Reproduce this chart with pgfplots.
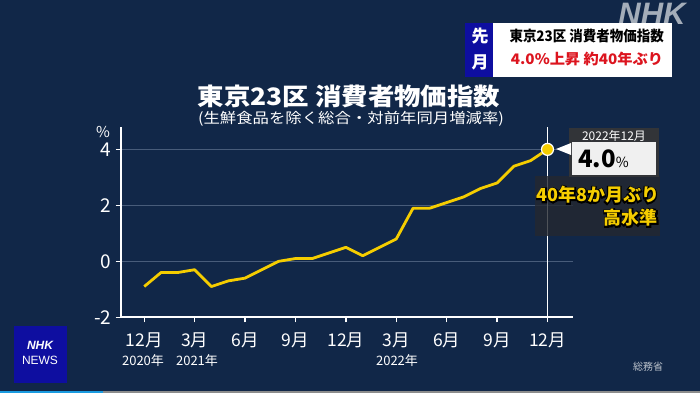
\documentclass[border=0pt]{standalone}
\usepackage{fontspec}
\setmainfont{Noto Sans CJK JP}
\newfontfamily\lat{Liberation Sans}
\newfontfamily\jpout[FakeBold=16]{Noto Sans CJK JP Bold}
\usepackage{pgfplots}
\pgfplotsset{compat=1.18}
\definecolor{bg}{RGB}{17,39,72}
\definecolor{gridc}{RGB}{72,92,122}
\definecolor{yel}{RGB}{245,205,0}
\definecolor{nhkblue}{RGB}{14,14,160}
\definecolor{dbox}{RGB}{36,40,48}
\newcommand{\fs}[1]{\fontsize{#1}{#1}\selectfont}
\begin{document}
\begin{tikzpicture}[x=1pt,y=1pt]
\useasboundingbox (0,0) rectangle (700,393);
\fill[bg] (0,0) rectangle (700,393);
\fill[color={rgb,255:red,26;green,155;blue,224}] (0,0) rectangle (103,2.5);
\fill[color={rgb,255:red,140;green,140;blue,140}] (103,0) rectangle (700,2.5);
% watermark
\node[text=white!62!bg, font={\lat\bfseries\itshape\fs{31}}] at (652,379) {NHK};
% header
\fill[nhkblue] (465,316.3) rectangle (495,370.3);
\fill[white] (493,316.3) rectangle (672,370.3);
\node[text=white, font={\bfseries\fs{17}}] at (480,357) {先};
\node[text=white, font={\bfseries\fs{17}}] at (480,331) {月};
\node[text=black, font={\bfseries\fs{14.5}}] at (586.7,357) {\scalebox{0.93}[1]{東京23区 消費者物価指数}};
\node[text={rgb,255:red,220;green,20;blue,30}, font={\bfseries\fs{14.5}}] at (587,334) {\scalebox{1.05}[1]{4.0\%上昇 約40年ぶり}};
% title
\node[text=white, font={\bfseries\fs{24}}] at (349,297) {\scalebox{1.1}[1]{東京23区 消費者物価指数}};
\node[text=white, font={\fs{14.5}}] at (351,274) {\scalebox{1.13}[1]{(生鮮食品を除く総合・対前年同月増減率)}};
\node[text=white, font={\fs{15}}] at (103,261) {\%};
\begin{axis}[
  at={(120.7pt,75.7pt)}, anchor=south west,
  scale only axis, width=452pt, height=190.3pt,
  xmin=-1.4, xmax=25.5, ymin=-2, ymax=4.8,
  axis x line=bottom, axis y line=left,
  axis line style={-, white, line width=1.6pt},
  xtick={0,3,...,24},
  xticklabels={12月,3月,6月,9月,12月,3月,6月,9月,12月},
  ytick={-2,0,2,4},
  yticklabels={-2,0,2,4},
  tick style={white, line width=1.4pt},
  major tick length=5pt,
  tick align=outside,
  ymajorgrids, grid style={gridc, line width=0.9pt},
  xticklabel style={font=\fs{17.5}, text=white, yshift=-7pt},
  yticklabel style={font=\fs{19}, text=white, xshift=-1pt},
  clip=false,
]
\addplot[white, line width=1.6pt] coordinates {(24,-2) (24,4.8)};
\addplot[yel, line width=2.8pt, line join=round] coordinates {
(0,-0.9) (1,-0.4) (2,-0.4) (3,-0.3) (4,-0.9) (5,-0.7) (6,-0.6) (7,-0.3)
(8,0.0) (9,0.1) (10,0.1) (11,0.3) (12,0.5) (13,0.2) (14,0.5) (15,0.8)
(16,1.9) (17,1.9) (18,2.1) (19,2.3) (20,2.6) (21,2.8) (22,3.4) (23,3.6) (24,4.0)};
\addplot[only marks, mark=*, mark size=6pt, mark options={fill=yel, draw=white, line width=1.2pt}] coordinates {(24,4.0)};
\end{axis}
% year labels
\node[text=white, font={\fs{13}}] at (143,32.3) {2020年};
\node[text=white, font={\fs{13}}] at (197,32.3) {2021年};
\node[text=white, font={\fs{13}}] at (397,32.3) {2022年};
% annotation
\fill[dbox, opacity=0.8] (535,157) rectangle (660,217);
\fill[color={rgb,255:red,50;green,52;blue,56}] (569,216) rectangle (659,265);
\node[text=white, font={\fs{12}}] at (614,257) {2022年12月};
\fill[color={rgb,255:red,240;green,240;blue,240}] (572,218) rectangle (656,251);
\fill[white] (556,244) -- (571,250) -- (571,238) -- cycle;
\node[anchor=west, text=black, font={\bfseries\fs{24}}, inner sep=0pt] at (578,234.5) {4.0\fs{14}\mdseries\%};
\node[text=black, font={\jpout\fs{18}}] at (598,198) {40年8か月ぶり};
\node[text=yel, font={\bfseries\fs{18}}] at (598,198) {40年8か月ぶり};
\node[anchor=east, text=black, font={\jpout\fs{18}}, inner sep=0pt] at (658,175) {高水準};
\node[anchor=east, text=yel, font={\bfseries\fs{18}}, inner sep=0pt] at (658,175) {高水準};
% logo
\fill[nhkblue] (14,10) rectangle (67,67);
\node[text=white, font={\lat\bfseries\itshape\fs{12}}] at (40,48) {NHK};
\node[text=white, font={\lat\fs{12}}] at (40,33) {NEWS};
\node[text=white!72!bg, font={\fs{10}}] at (648,26) {総務省};
\end{tikzpicture}
\end{document}
